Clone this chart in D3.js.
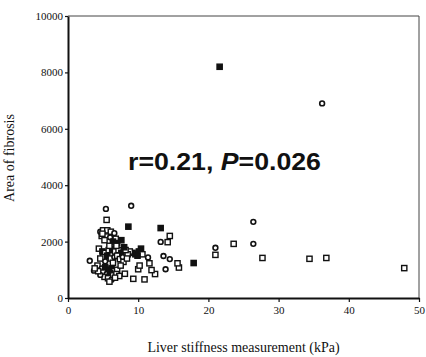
<!DOCTYPE html>
<html><head><meta charset="utf-8">
<script src="https://cdn.jsdelivr.net/npm/d3@7"></script>
<style>body{margin:0;background:#fff}svg{display:block}</style>
</head><body>
<script>
// Data
const xTicks = [0, 10, 20, 30, 40, 50];
const yTicks = [0, 2000, 4000, 6000, 8000, 10000];
const xTitle = "Liver stiffness measurement (kPa)";
const yTitle = "Area of fibrosis";
const annotation = ["r=0.21, ", "P", "=0.026"];
// LSM (kPa)
const lsm = [21.6,36.2,26.4,26.4,23.6,27.7,34.4,36.8,47.9,21.0,21.0,17.9,15.8,15.6,14.5,13.6,13.9,14.5,14.2,13.2,13.2,12.4,11.9,11.6,11.4,10.9,9.3,10.0,10.2,8.1,9.0,8.6,5.4,5.5,7.6,3.1,3.7,
 9.2,9.6,10.1,10.4,8.8,10.6,9.9,8.5,
 4.6,5.0,5.6,6.1,6.6,4.8,5.4,6.0,6.8,5.2,6.4,7.0,4.9,
 4.4,4.9,5.3,5.8,6.3,6.7,7.2,7.6,5.0,5.6,6.1,6.6,7.0,7.4,7.8,4.6,5.3,6.4,7.9,8.2,8.0,6.9,5.9,8.4,
 4.2,4.8,5.3,5.8,6.2,6.6,7.0,5.0,5.5,6.0,6.4,6.9,7.3,5.2,5.7,6.2,4.6,5.9,6.7,7.5,4.3,3.8];
// Area of fibrosis
const area = [8200,6900,2700,1920,1920,1420,1390,1420,1060,1780,1530,1240,1080,1230,1380,1490,1020,2200,1980,1990,2480,850,990,1230,1440,660,680,1020,1150,860,3270,2530,3160,2770,2050,1320,970,
 1600,1550,1650,1750,1650,1550,1500,1550,
 2350,2400,2400,2350,2300,2200,2180,2150,2100,2050,2000,1950,2280,
 1750,1650,1600,1700,1750,1650,1700,1600,1450,1500,1400,1450,1500,1380,1450,1400,1300,1250,1280,1700,1800,1850,1850,1400,
 1150,1050,1100,1000,1050,950,1000,900,850,880,800,850,780,750,700,650,820,580,720,1150,950,1050];
// marker type: c = open circle, s = open square, f = filled square
const marker = ["f","c","c","c","s","s","s","s","s","c","s","f","s","s","c","c","c","s","s","c","f","s","s","s","c","s","s","s","s","s","c","f","c","s","f","c","c",
 "f","f","f","f","s","s","f","s",
 "c","s","s","s","c","s","s","c","s","s","f","f","s",
 "s","f","s","s","f","s","s","f","s","f","s","c","s","s","c","s","c","s","s","s","f","s","s","s",
 "s","c","f","f","f","s","s","s","c","f","s","s","s","s","s","c","c","s","s","s","s","s"];

const W = 426, H = 357;
const m = {left: 68, right: 419, top: 16, bottom: 298};
const svg = d3.select("body").append("svg").attr("width", W).attr("height", H);

const x = d3.scaleLinear().domain([0, 50]).range([m.left, m.right]);
const y = d3.scaleLinear().domain([0, 10000]).range([m.bottom, m.top]);

// frame (top and right)
svg.append("path")
  .attr("d", `M${m.left},${m.top}H${m.right}V${m.bottom}`)
  .attr("fill", "none").attr("stroke", "#444").attr("stroke-width", 1);

const xAxis = svg.append("g").attr("transform", `translate(0,${m.bottom})`)
  .call(d3.axisBottom(x).tickValues(xTicks).tickSize(4).tickSizeOuter(0).tickFormat(d3.format("d")));
const yAxis = svg.append("g").attr("transform", `translate(${m.left},0)`)
  .call(d3.axisLeft(y).tickValues(yTicks).tickSize(3).tickSizeOuter(0).tickFormat(d3.format("d")));
[xAxis, yAxis].forEach(g => {
  g.attr("font-family", "'Liberation Serif', serif").attr("font-size", 11);
  g.select(".domain").attr("stroke", "#111").attr("stroke-width", 2);
  g.selectAll(".tick line").attr("stroke", "#111").attr("stroke-width", 1.2);
  g.selectAll("text").style("font-family", "'Liberation Serif', serif").style("font-size", "11px").attr("fill", "#111");
});
xAxis.selectAll("text").attr("dy", "0.9em").attr("y", 6);
yAxis.selectAll("text").attr("x", -5);

// points
const pts = svg.append("g");
lsm.forEach((v, i) => {
  const cx = x(v), cy = y(area[i]), t = marker[i];
  if (t === "c") {
    pts.append("circle").attr("cx", cx).attr("cy", cy).attr("r", 2.4)
      .attr("fill", "#fff").attr("stroke", "#111").attr("stroke-width", 1.6);
  } else {
    pts.append("rect").attr("x", cx - 2.6).attr("y", cy - 2.6).attr("width", 5.2).attr("height", 5.2)
      .attr("fill", t === "f" ? "#111" : "#fff").attr("stroke", "#111").attr("stroke-width", 1.4);
  }
});

// annotation
const ann = svg.append("text").attr("x", 128).attr("y", 170)
  .attr("font-family", "Liberation Sans, Arial, sans-serif").attr("font-weight", "bold")
  .attr("font-size", 23).attr("fill", "#111")
  .attr("textLength", 193).attr("lengthAdjust", "spacingAndGlyphs");
ann.append("tspan").text(annotation[0]);
ann.append("tspan").attr("font-style", "italic").text(annotation[1]);
ann.append("tspan").text(annotation[2]);

// axis titles
svg.append("text").attr("x", (m.left + m.right) / 2).attr("y", 352)
  .attr("text-anchor", "middle").attr("font-family", "'Liberation Serif', serif")
  .attr("font-size", 14).attr("fill", "#111").text(xTitle);
svg.append("text").attr("transform", "translate(14,158) rotate(-90)")
  .attr("text-anchor", "middle").attr("font-family", "'Liberation Serif', serif")
  .attr("font-size", 14).attr("fill", "#111").text(yTitle);
</script>
</body></html>
